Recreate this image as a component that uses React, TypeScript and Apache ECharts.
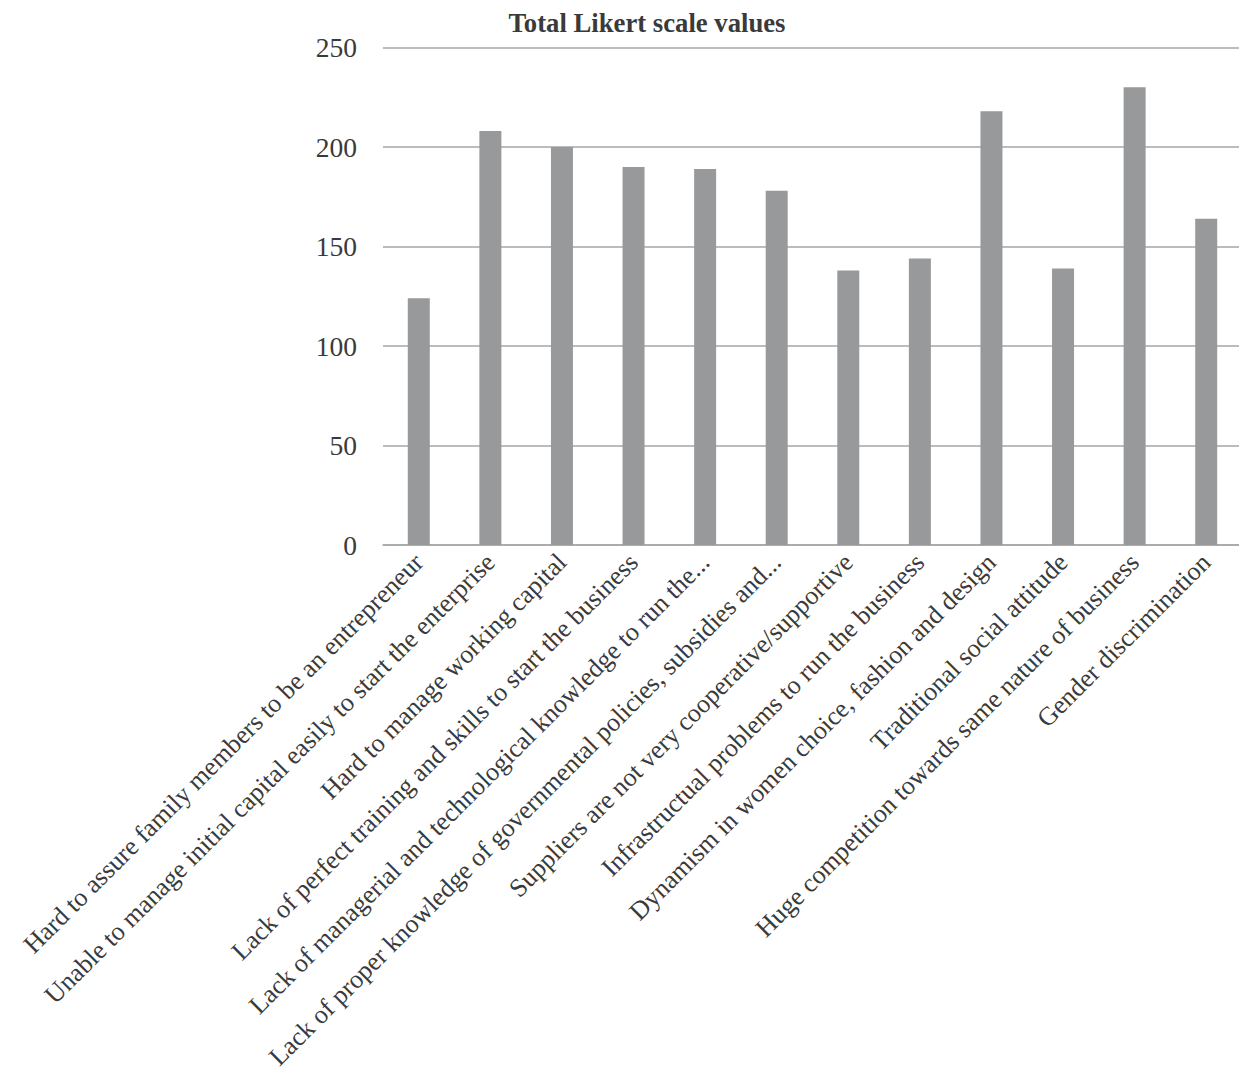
import React, { useEffect, useRef } from "react";
import * as echarts from "echarts";

const categories: string[] = [
  "Hard to assure family members to be an entrepreneur",
  "Unable to manage initial capital easily to start the enterprise",
  "Hard to manage working capital",
  "Lack of perfect training and skills to start the business",
  "Lack of managerial and technological knowledge to run the...",
  "Lack of proper knowledge of governmental policies, subsidies and...",
  "Suppliers are not very cooperative/supportive",
  "Infrastructual problems to run the business",
  "Dynamism in women choice, fashion and design",
  "Traditional social attitude",
  "Huge competition towards same nature of business",
  "Gender discrimination",
];

const values: number[] = [124, 208, 200, 190, 189, 178, 138, 144, 218, 139, 230, 164];

const yTicks = { min: 0, max: 250, interval: 50 };
const titleText = "Total Likert scale values";

export default function App() {
  const ref = useRef<HTMLDivElement>(null);

  useEffect(() => {
    if (!ref.current) return;
    const chart = echarts.init(ref.current, undefined, { renderer: "svg" });
    const font = "'Liberation Serif', 'Times New Roman', serif";
    chart.setOption({
      animation: false,
      backgroundColor: "#ffffff",
      graphic: [
        {
          type: "text",
          x: 647,
          y: 23,
          style: {
            text: titleText,
            font: `bold 26.7px ${font}`,
            fill: "#3a3a3a",
            textAlign: "center",
            textVerticalAlign: "middle",
          },
        },
      ],
      grid: {
        left: 383,
        right: -3,
        top: 47.5,
        bottom: 531,
        containLabel: false,
        outerBoundsMode: "none",
      },
      xAxis: {
        type: "category",
        data: categories,
        axisLine: { show: true, lineStyle: { color: "#a6a6a6", width: 1.5 } },
        axisTick: { show: false },
        axisLabel: {
          interval: 0,
          rotate: 45,
          margin: 13,
          fontFamily: font,
          fontSize: 26,
          color: "#3a3a3a",
        },
      },
      yAxis: {
        type: "value",
        min: yTicks.min,
        max: yTicks.max,
        interval: yTicks.interval,
        axisLine: { show: false },
        axisTick: { show: false },
        splitLine: { show: true, lineStyle: { color: "#a6a6a6", width: 1.5 } },
        axisLabel: {
          margin: 26,
          fontFamily: font,
          fontSize: 27.5,
          color: "#3a3a3a",
        },
      },
      series: [
        {
          type: "bar",
          data: values,
          barWidth: 22,
          itemStyle: { color: "#98999b" },
        },
      ],
    });
    return () => chart.dispose();
  }, []);

  return (
    <div
      ref={ref}
      style={{ position: "absolute", left: 0, top: 0, width: 1239, height: 1076 }}
    />
  );
}
